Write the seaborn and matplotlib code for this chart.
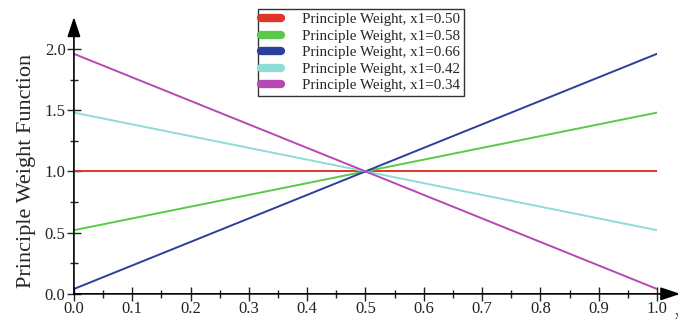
import numpy as np
import pandas as pd
import seaborn as sns
import matplotlib.pyplot as plt
from matplotlib.lines import Line2D

# Data: endpoints of each weight line at x=0 and x=1
x_vals = [0.0, 1.0]
labels = ["Principle Weight, x1=0.50", "Principle Weight, x1=0.58",
          "Principle Weight, x1=0.66", "Principle Weight, x1=0.42",
          "Principle Weight, x1=0.34"]
start_vals = [1.0, 0.52, 0.04, 1.48, 1.96]
end_vals = [1.0, 1.48, 1.96, 0.52, 0.04]
colors = ["#e0352b", "#5bc94a", "#2b3f9c", "#8ddcd6", "#b648b4"]

rows = []
for lab, s, e in zip(labels, start_vals, end_vals):
    rows.append({"x": x_vals[0], "y": s, "series": lab})
    rows.append({"x": x_vals[1], "y": e, "series": lab})
df = pd.DataFrame(rows)

sns.set_style("white")
plt.rcParams['font.family'] = ['Liberation Serif', 'DejaVu Serif']

fig = plt.figure(figsize=(6.78, 3.24), dpi=100)
ax = fig.add_axes([0.109, 0.093, 0.86, 0.756])

sns.lineplot(data=df, x="x", y="y", hue="series", palette=colors,
             hue_order=labels, ax=ax, linewidth=1.4, legend=False)

ax.set_xlim(0, 1.0)
ax.set_ylim(0, 2.0)
ax.set_xticks(np.arange(0, 1.01, 0.1))
ax.set_xticks(np.arange(0.05, 1.0, 0.1), minor=True)
ax.set_yticks(np.arange(0, 2.01, 0.5))
ax.set_yticks(np.arange(0.25, 2.0, 0.5), minor=True)
ax.xaxis.set_major_formatter(plt.FuncFormatter(lambda v, p: f"{v:.1f}"))
ax.yaxis.set_major_formatter(plt.FuncFormatter(lambda v, p: f"{v:.1f}"))
ax.tick_params(axis="both", which="major", direction="inout", length=10,
               width=1, labelsize=12, colors="#222222", labelcolor="#222222")
ax.tick_params(axis="both", which="minor", direction="inout", length=6,
               width=1, colors="#222222")
ax.tick_params(axis="x", pad=0)
ax.tick_params(axis="y", pad=1)
ax.xaxis.set_ticks_position("bottom")
ax.yaxis.set_ticks_position("left")

for sp in ["top", "right", "left", "bottom"]:
    ax.spines[sp].set_visible(False)

# axis lines with arrowheads
ax.annotate("", xy=(1.04, 0), xytext=(0, 0), xycoords="axes fraction",
            arrowprops=dict(arrowstyle="-|>,head_length=1.2,head_width=0.4",
                            color="black", lw=1.2, shrinkA=0, shrinkB=0),
            annotation_clip=False)
ax.annotate("", xy=(0, 1.13), xytext=(0, 0), xycoords="axes fraction",
            arrowprops=dict(arrowstyle="-|>,head_length=1.2,head_width=0.4",
                            color="black", lw=1.2, shrinkA=0, shrinkB=0),
            annotation_clip=False)
ax.set_xlabel("")
ax.set_ylabel("Principle Weight Function", fontsize=16, labelpad=6)
fig.text(0.995, 0.005, "x", fontsize=9, ha="left", va="bottom")

handles = [Line2D([0], [0], color=c, lw=6, solid_capstyle="round") for c in colors]
leg = fig.legend(handles, labels, loc="upper left", bbox_to_anchor=(0.38, 0.972),
                 fontsize=10.8, frameon=True, fancybox=False, edgecolor="black",
                 handlelength=1.3, handletextpad=1.4, labelspacing=0.2,
                 borderpad=0.25, borderaxespad=0)
leg.get_frame().set_linewidth(1.0)

fig.savefig("out.png", dpi=100)
